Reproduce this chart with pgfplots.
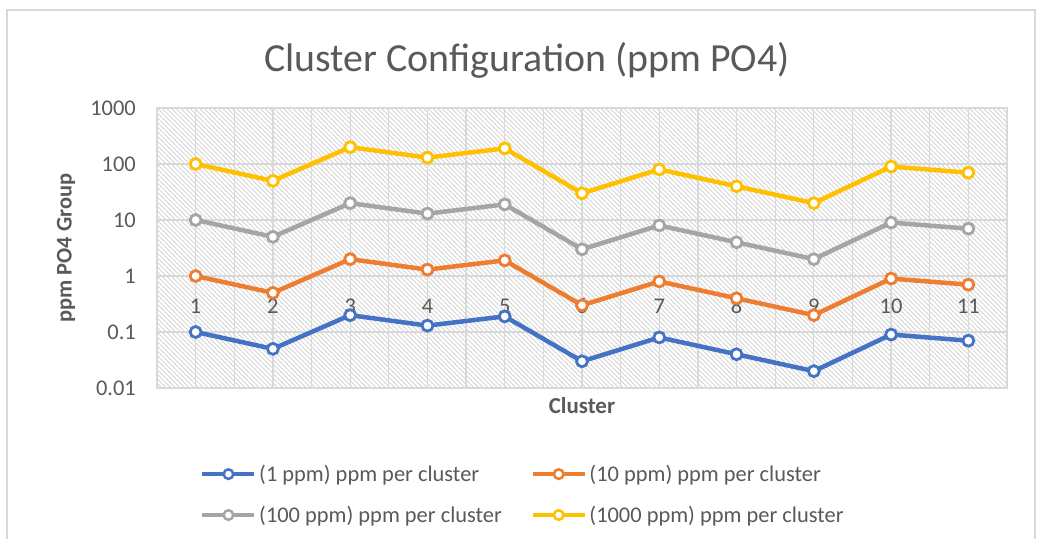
\documentclass[border=0pt]{standalone}
\usepackage{fontspec}
\setmainfont{Carlito}
\usepackage{pgfplots}
\pgfplotsset{compat=1.18}
\usetikzlibrary{patterns.meta}
\definecolor{cblue}{HTML}{4472C4}
\definecolor{corange}{HTML}{ED7D31}
\definecolor{cgray}{HTML}{A5A5A5}
\definecolor{cgold}{HTML}{FFC000}
\definecolor{txtgray}{HTML}{595959}
\definecolor{gridgray}{HTML}{D9D9D9}
\definecolor{hatchgray}{HTML}{CCCCCC}
\definecolor{bordergray}{HTML}{D9D9D9}
\begin{document}
\begin{tikzpicture}
\useasboundingbox (0,0) rectangle (1043bp,539bp);
\draw[color=bordergray, line width=2bp] (7bp,-5bp) -- (7bp,529bp) -- (1035bp,529bp) -- (1035bp,-5bp);
\node[font=\fontsize{40}{48}\selectfont, text=txtgray] at (527bp,479bp) {Cluster Configuration (ppm PO4)};
\begin{axis}[
  at={(157bp,151bp)}, anchor=south west,
  scale only axis, width=850bp, height=280bp,
  ymode=log, ymin=0.01, ymax=1000,
  xmin=0.5, xmax=11.5,
  xtick={1,2,3,4,5,6,7,8,9,10,11},
  xticklabels={1,2,3,4,5,6,7,8,9,10,11},
  minor x tick num=1,
  ytick={0.01,0.1,1,10,100,1000},
  yticklabels={0.01,0.1,1,10,100,1000},
  xmajorgrids, xminorgrids, ymajorgrids,
  grid style={draw=gridgray, line width=1.3bp},
  minor grid style={draw=gridgray, line width=1.3bp},
  major tick length=0pt, minor tick length=0pt,
  axis line style={draw=gridgray, line width=1.3bp},
  axis background/.style={pattern={Lines[angle=-45,distance=3.3bp,line width=0.7bp]}, pattern color=hatchgray},
  ticklabel style={font=\fontsize{22.5}{26}\selectfont, text=txtgray},
  yticklabel style={inner sep=0pt, anchor=east, xshift=-21bp},
  xticklabel style={inner sep=0pt, anchor=center, yshift=82bp},
  xlabel={Cluster}, ylabel={ppm PO4 Group},
  every axis x label/.style={at={(axis description cs:0.5,0)}, anchor=center, yshift=-18bp, font=\fontsize{23}{27}\selectfont\bfseries, text=txtgray},
  every axis y label/.style={at={(axis description cs:0,0.5)}, xshift=-91bp, rotate=90, anchor=center, font=\fontsize{22.5}{27}\selectfont\bfseries, text=txtgray},
  legend columns=2,
  legend cell align=left,
  legend style={at={(axis description cs:0.0506,-0.266)}, anchor=north west, draw=none, fill=none,
    font=\fontsize{22.5}{26}\selectfont, text=txtgray, inner sep=0pt, row sep=18bp, column sep=0bp,
    nodes={inner sep=2.5bp},
    /tikz/every even column/.append style={column sep=26bp}},
  legend image code/.code={\draw[#1, line width=4.5bp, mark size=4.8bp, mark options={fill=white, line width=2.5bp, solid}, mark repeat=2, mark phase=2] plot coordinates {(0bp,0bp) (26bp,0bp) (52bp,0bp)};},
  every axis plot/.append style={line width=4.5bp, mark=*, mark size=5.5bp, mark options={fill=white, line width=2.8bp}},
]
\addplot[cblue] coordinates {(1,0.1) (2,0.05) (3,0.2) (4,0.13) (5,0.19) (6,0.03) (7,0.08) (8,0.04) (9,0.02) (10,0.09) (11,0.07)};
\addlegendentry{(1 ppm) ppm per cluster}
\addplot[corange] coordinates {(1,1) (2,0.5) (3,2) (4,1.3) (5,1.9) (6,0.3) (7,0.8) (8,0.4) (9,0.2) (10,0.9) (11,0.7)};
\addlegendentry{(10 ppm) ppm per cluster}
\addplot[cgray] coordinates {(1,10) (2,5) (3,20) (4,13) (5,19) (6,3) (7,8) (8,4) (9,2) (10,9) (11,7)};
\addlegendentry{(100 ppm) ppm per cluster}
\addplot[cgold] coordinates {(1,100) (2,50) (3,200) (4,130) (5,190) (6,30) (7,80) (8,40) (9,20) (10,90) (11,70)};
\addlegendentry{(1000 ppm) ppm per cluster}
\end{axis}
\end{tikzpicture}
\end{document}
